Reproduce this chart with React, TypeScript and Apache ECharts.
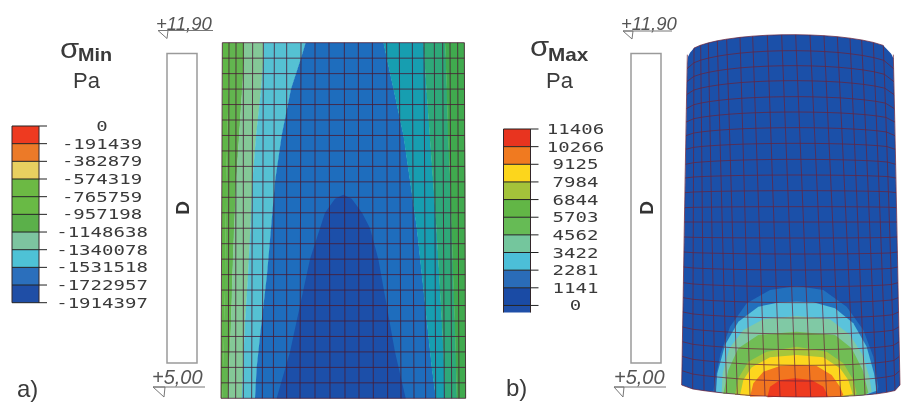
import React, { useEffect, useRef } from "react";
import * as echarts from "echarts";

// ---- legends
const minTicks = ["0", "-191439", "-382879", "-574319", "-765759", "-957198", "-1148638", "-1340078", "-1531518", "-1722957", "-1914397"];
const maxTicks = ["11406", "10266", "9125", "7984", "6844", "5703", "4562", "3422", "2281", "1141", "0"];
const minColors = ["#ee3a20", "#ec7a28", "#e8d060", "#6cb944", "#69ba45", "#5bb04a", "#7dc4a0", "#4ec2d6", "#2b6fbc", "#1f4ea6"];
const maxColors = ["#e8341f", "#f07a20", "#fcd61c", "#a4c33a", "#62b646", "#66bb55", "#74c69d", "#4cbfd8", "#2a6cb8", "#1a4ba5", "#1f4fa8"];

// ---- panel a: contour boundaries, x read at the mesh rows below
const contourRows = [0, 1, 3, 6, 9, 12, 15, 18, 21, 23];
const aEdgeLeft = [22, 22, 22, 21, 21, 20, 20, 19, 18, 18];
const aGreen1 = [42, 42, 40, 36, 33, 31, 30, 27, 24, 22];
const aGreen2 = [87, 87, 81, 72, 63, 57, 52, 48, 42, 40];
const aPale = [145, 145, 138, 123, 112, 106, 99, 90, 84, 80];
const aCyan = [272, 258, 228, 200, 180, 168, 156, 140, 125, 120];
const aBlue = [505, 515, 535, 565, 585, 605, 620, 635, 650, 662];
const aTeal = [625, 628, 634, 644, 654, 664, 672, 680, 687, 690];
const aSea = [690, 692, 695, 699, 705, 710, 714, 719, 723, 725];
const aEdgeRight = [748, 748, 749, 749, 750, 750, 751, 751, 752, 752];
const aBands = [aEdgeLeft, aGreen1, aGreen2, aPale, aCyan, aBlue, aTeal, aSea, aEdgeRight];
const aBandColors = ["#5fb646", "#62b54f", "#84c897", "#55c1d3", "#1e6dbd", "#179eb0", "#2ea879", "#40aa4e"];
const aCore: number[][] = [[385, 9.83], [410, 10.1], [441, 11], [465, 12], [490, 14], [515, 17], [540, 20], [572, 23], [185, 23], [225, 20], [255, 17], [285, 14], [315, 12], [330, 11], [360, 10.1]];
const aCoreColor = "#1c4fa9";
const aColsTop = [22, 42, 63, 85, 113, 145, 178, 215, 258, 300, 342, 388, 430, 472, 515, 553, 592, 627, 658, 683, 705, 728, 748];
const aColsBottom = [18, 40, 62, 85, 110, 142, 175, 215, 255, 300, 345, 390, 432, 475, 518, 558, 597, 632, 662, 688, 710, 732, 752];
const aRowCount = 24;

// ---- panel b: cylinder mesh
const bRows = [14, 62, 107, 152, 200, 246, 293, 340, 388, 435, 482, 530, 576, 624, 672, 720, 770, 818, 864, 912, 959, 1006, 1053, 1101];
const bSag = [60, 54, 48, 42, 36, 30, 24, 18, 15, 9, 6, 3, 0, -3, -6, -9, -12, -15, -18, -21, -24, -27, -31, -36];
const bColsTop = [22, 42, 62, 85, 112, 140, 180, 218, 262, 305, 347, 390, 432, 472, 510, 545, 580, 610, 640];
const bColsBottom = [5, 38, 72, 105, 140, 172, 210, 255, 300, 348, 392, 440, 482, 523, 555, 590, 620, 645, 660];
const bDrop = [1, 0.67, 0.525, 0.41, 0.306, 0.223, 0.134, 0.074, 0.028, 0.005, 0, 0.016, 0.05, 0.1, 0.175, 0.264, 0.387, 0.538, 1];
const bRimLeft: number[][] = [[22, 100], [24, 80], [30, 68]];
const bRimRight: number[][] = [[625, 62], [634, 72], [640, 85]];
const bBase = "#1b50a9";
// panel b: stress domes, outer to inner
const domeOuter: number[][] = [[100, 335], [105, 300], [122, 220], [150, 140], [200, 70], [270, 30], [350, 18], [430, 30], [500, 80], [550, 150], [580, 230], [595, 320], [592, 335]];
const domeCyan: number[][] = [[108, 335], [112, 280], [135, 195], [175, 125], [235, 80], [300, 67], [350, 65], [400, 67], [465, 85], [520, 130], [560, 200], [582, 280], [590, 332]];
const domePale: number[][] = [[125, 340], [128, 280], [148, 205], [190, 150], [250, 118], [350, 108], [450, 118], [510, 165], [548, 225], [568, 290], [575, 335]];
const domeGreen: number[][] = [[130, 342], [145, 270], [175, 205], [235, 165], [350, 155], [465, 165], [515, 205], [548, 270], [565, 338]];
const domeLime: number[][] = [[165, 345], [175, 295], [205, 245], [260, 215], [350, 200], [440, 215], [490, 250], [520, 300], [530, 340]];
const domeYellow: number[][] = [[180, 346], [190, 300], [215, 262], [270, 232], [350, 225], [430, 232], [480, 265], [505, 300], [518, 342]];
const domeOrange: number[][] = [[210, 350], [220, 310], [250, 275], [300, 258], [350, 255], [410, 258], [455, 285], [480, 320], [490, 345]];
const domeRed: number[][] = [[262, 352], [270, 320], [300, 300], [345, 295], [395, 300], [430, 320], [445, 350]];
const domes = [domeOuter, domeCyan, domePale, domeGreen, domeLime, domeYellow, domeOrange, domeRed];
const domeColors = ["#2270bd", "#5ac3dc", "#80c9a5", "#71bd55", "#a6c63b", "#fcd61e", "#f2761f", "#ee3a1f"];

const SANS = "'Liberation Sans', Arial, sans-serif";
const MONO = "'DejaVu Sans Mono', monospace";
const INK = "#3a3a3a";

function hiddenAxis(gridIndex: number, min: number, max: number, inverse = false) {
  return { type: "value", gridIndex, min, max, inverse, show: false };
}

function legendSeries(idx: number, ticks: string[], colors: string[], labelX: number, barEnd: number) {
  return {
    type: "custom",
    xAxisIndex: idx,
    yAxisIndex: idx,
    data: [[0, 0]],
    silent: true,
    renderItem: (_: any, api: any) => {
      const children: any[] = [];
      const c = (x: number, y: number) => api.coord([x, y]);
      colors.forEach((col, i) => {
        const a = c(0, i);
        const b = c(27, Math.min(i + 1, barEnd));
        children.push({ type: "rect", shape: { x: a[0], y: a[1], width: b[0] - a[0], height: b[1] - a[1] }, style: { fill: col } });
      });
      const bot = c(0, barEnd);
      const top = c(0, 0);
      const r = c(27, 0);
      children.push({ type: "line", shape: { x1: top[0], y1: top[1], x2: bot[0], y2: bot[1] }, style: { stroke: "#33262a", lineWidth: 1 } });
      children.push({ type: "line", shape: { x1: r[0], y1: top[1], x2: r[0], y2: bot[1] }, style: { stroke: "#33262a", lineWidth: 1 } });
      ticks.forEach((t, i) => {
        const a = c(0, i);
        const b = c(35, i);
        children.push({ type: "line", shape: { x1: a[0], y1: a[1], x2: b[0], y2: b[1] }, style: { stroke: "#222", lineWidth: 1 } });
        const l = c(labelX, i);
        children.push({
          type: "text", x: l[0], y: l[1], scaleX: 1.36,
          style: { text: t, fontFamily: MONO, fontSize: 14, fill: INK, align: "center", verticalAlign: "middle" },
        });
      });
      return { type: "group", children };
    },
  };
}

function panelASeries() {
  return {
    type: "custom", xAxisIndex: 0, yAxisIndex: 0, data: [[0, 0]], silent: true,
    renderItem: (_: any, api: any) => {
      const children: any[] = [];
      for (let k = 0; k < aBandColors.length; k++) {
        const pts: number[][] = [];
        contourRows.forEach((r, i) => pts.push(api.coord([aBands[k][i], r])));
        for (let i = contourRows.length - 1; i >= 0; i--) pts.push(api.coord([aBands[k + 1][i] + 1, contourRows[i]]));
        children.push({ type: "polygon", shape: { points: pts }, style: { fill: aBandColors[k] } });
      }
      children.push({ type: "polygon", shape: { points: aCore.map((p) => api.coord(p)) }, style: { fill: aCoreColor } });
      const mesh = "rgba(72,28,52,0.8)";
      aColsTop.forEach((t, i) => {
        const a = api.coord([t, 0]);
        const b = api.coord([aColsBottom[i], aRowCount - 1]);
        children.push({ type: "line", shape: { x1: a[0], y1: a[1], x2: b[0], y2: b[1] }, style: { stroke: mesh, lineWidth: 1 } });
      });
      for (let r = 0; r < aRowCount; r++) {
        const f = r / (aRowCount - 1);
        const a = api.coord([aColsTop[0] + (aColsBottom[0] - aColsTop[0]) * f, r]);
        const last = aColsTop.length - 1;
        const b = api.coord([aColsTop[last] + (aColsBottom[last] - aColsTop[last]) * f, r]);
        children.push({ type: "line", shape: { x1: a[0], y1: a[1], x2: b[0], y2: b[1] }, style: { stroke: mesh, lineWidth: 1 } });
      }
      return { type: "group", children };
    },
  };
}

function panelBSeries() {
  return {
    type: "custom", xAxisIndex: 1, yAxisIndex: 1, data: [[0, 0]], silent: true,
    renderItem: (_: any, api: any) => {
      const children: any[] = [];
      const n = bRows.length - 1;
      const rowPts = (r: number) => {
        const f = r / n;
        return bColsTop.map((t, i) => [t + (bColsBottom[i] - t) * f, bRows[r] + bSag[r] * bDrop[i]]);
      };
      const rowTop = rowPts(0);
      const rowBottom = rowPts(n);
      const outline = [...bRimLeft, ...rowTop.slice(1, -1), ...bRimRight, ...rowBottom.slice().reverse()];
      children.push({ type: "polygon", shape: { points: outline.map((p) => api.coord(p)) }, style: { fill: bBase } });
      domes.forEach((d, k) => {
        const shifted = d.map((p) => [p[0], p[1] + 750]);
        const x0 = shifted[0][0];
        const x1 = shifted[shifted.length - 1][0];
        const under = rowBottom.filter((p) => p[0] > x0 && p[0] < x1).reverse();
        const pts = [...shifted, ...under].map((p) => api.coord(p));
        children.push({ type: "polygon", shape: { points: pts }, style: { fill: domeColors[k] } });
      });
      const mesh = "rgba(105,34,58,0.72)";
      for (let r = 0; r <= n; r++) {
        const pts = rowPts(r);
        children.push({ type: "polyline", shape: { points: (r === 0 ? pts.slice(1, -1) : pts).map((p) => api.coord(p)) }, style: { stroke: mesh, lineWidth: 1, fill: "none" } });
      }
      bColsTop.forEach((_t, i) => {
        const pts: number[][] = [];
        for (let r = 0; r <= n; r++) pts.push(api.coord(rowPts(r)[i]));
        children.push({ type: "polyline", shape: { points: pts }, style: { stroke: mesh, lineWidth: 1, fill: "none" } });
      });
      return { type: "group", children };
    },
  };
}

function txt(text: string, x: number, baseline: number, size: number, extra: any = {}, scaleX = 1) {
  return {
    type: "text", x, y: baseline - size * 0.8, scaleX, silent: true,
    style: { text, fontFamily: SANS, fontSize: size, fill: INK, verticalAlign: "top", ...extra },
  };
}

function levelMark(label: string, tx: number, base: number, size: number, x1: number, x2: number, lineY: number, triX: number, triH: number) {
  return [
    txt(label, tx, base, size, { fontStyle: "italic", fill: "#555" }),
    { type: "line", silent: true, shape: { x1, y1: lineY, x2, y2: lineY }, style: { stroke: "#777", lineWidth: 1 } },
    { type: "polygon", silent: true, shape: { points: [[x1, lineY], [triX, lineY], [triX - 1, lineY + triH]] }, style: { stroke: "#777", lineWidth: 1, fill: "none" } },
  ];
}

function wall(x: number) {
  return [
    { type: "rect", silent: true, shape: { x, y: 53.5, width: 30, height: 309.5 }, style: { fill: "#fff", stroke: "#9a9a9a", lineWidth: 1.5 } },
    { type: "text", silent: true, x: x + 15, y: 208, rotation: Math.PI / 2, style: { text: "D", fontFamily: SANS, fontWeight: "bold", fontSize: 19, fill: "#333", align: "center", verticalAlign: "middle" } },
  ];
}

export default function App() {
  const ref = useRef<HTMLDivElement>(null);
  useEffect(() => {
    document.body.style.margin = "0";
    const chart = echarts.init(ref.current!, undefined, { renderer: "svg" });
    chart.setOption({
      animation: false,
      backgroundColor: "#fff",
      grid: [
        { left: 215, top: 42.7, width: 260, height: 355.6 },
        { left: 680, top: 30, width: 221, height: 372 },
        { left: 12, top: 126, width: 27, height: 176.7 },
        { left: 503.5, top: 129, width: 27, height: 183.5 },
      ],
      xAxis: [hiddenAxis(0, 0, 780), hiddenAxis(1, 0, 663), hiddenAxis(2, 0, 27), hiddenAxis(3, 0, 27)],
      yAxis: [hiddenAxis(0, 0, 23, true), hiddenAxis(1, 0, 1116, true), hiddenAxis(2, 0, 10, true), hiddenAxis(3, 0, 10.4, true)],
      series: [
        panelASeries(),
        panelBSeries(),
        legendSeries(2, minTicks, minColors, 90, 10),
        legendSeries(3, maxTicks, maxColors, 72, 10.4),
      ],
      graphic: {
        elements: [
          txt("σ", 60, 57, 27, {}, 1.15),
          txt("Min", 78, 60.7, 18, { fontWeight: "bold" }, 1.1),
          txt("Pa", 73, 87, 22),
          txt("σ", 530, 55, 27, {}, 1.15),
          txt("Max", 548, 60, 18, { fontWeight: "bold" }, 1.15),
          txt("Pa", 546, 87, 22),
          txt("a)", 17, 396, 24),
          txt("b)", 506, 395, 24),
          ...levelMark("+11,90", 156, 29, 18.5, 158, 213, 30.5, 168, 8),
          ...levelMark("+5,00", 152, 383, 20, 153, 205, 387, 165, 10),
          ...levelMark("+11,90", 621, 29, 18.5, 623, 672, 31, 633, 8),
          ...levelMark("+5,00", 614, 383, 20, 614, 666, 387, 624, 10),
          ...wall(167),
          ...wall(631),
        ],
      },
    });
    return () => chart.dispose();
  }, []);
  return <div ref={ref} style={{ position: "absolute", left: 0, top: 0, width: 901, height: 402, filter: "blur(0.6px)" }} />;
}
